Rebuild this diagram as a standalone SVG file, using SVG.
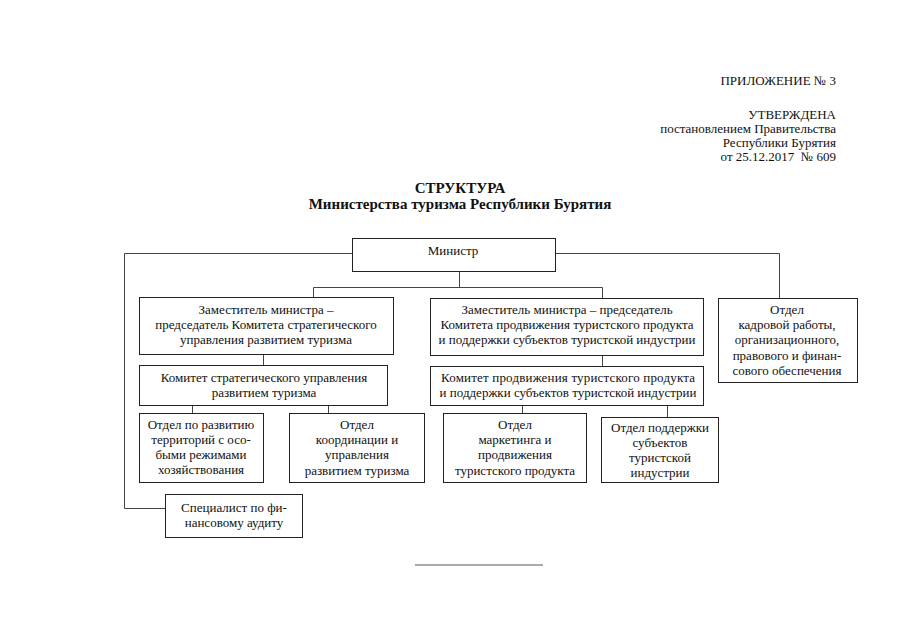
<svg xmlns="http://www.w3.org/2000/svg" width="905" height="640" viewBox="0 0 905 640">
<style>
  text { font-family: "Liberation Serif", "Times New Roman", serif; font-size: 13px; fill: #111; }
  .c { text-anchor: middle; }
  .r { text-anchor: end; }
  .t { font-size: 15px; font-weight: bold; text-anchor: middle; }
  .box { fill: #fff; stroke: #222; stroke-width: 1; }
  .ln { fill: none; stroke: #444; stroke-width: 1; }
</style>
<rect width="905" height="640" fill="#fff"/>

<g id="header">
  <text class="r" x="836" y="85">ПРИЛОЖЕНИЕ № 3</text>
  <text class="r" x="836" y="119">УТВЕРЖДЕНА</text>
  <text class="r" x="836" y="133">постановлением Правительства</text>
  <text class="r" x="836" y="147">Республики Бурятия</text>
  <text class="r" x="836" y="161" xml:space="preserve">от 25.12.2017  № 609</text>
</g>

<g id="title">
  <text class="t" x="460" y="193">СТРУКТУРА</text>
  <text class="t" x="460" y="209">Министерства туризма Республики Бурятия</text>
</g>

<g id="connectors">
  <polyline class="ln" points="459.5,271 459.5,287.5"/>
  <polyline class="ln" points="313.5,297 313.5,287.5 602.5,287.5 602.5,298"/>
  <polyline class="ln" points="263.5,354 263.5,365"/>
  <polyline class="ln" points="602.5,355 602.5,366"/>
  <polyline class="ln" points="192.5,405 192.5,413"/>
  <polyline class="ln" points="328.5,405 328.5,413"/>
  <polyline class="ln" points="522.5,405 522.5,413"/>
  <polyline class="ln" points="667.5,405 667.5,417"/>
  <polyline class="ln" points="352,253.5 124.5,253.5 124.5,508.5 165,508.5"/>
  <polyline class="ln" points="555,253.5 779.5,253.5 779.5,298"/>
</g>

<g id="minister">
  <rect class="box" x="352.5" y="238.5" width="203" height="33"/>
  <text class="c" x="453" y="255">Министр</text>
</g>

<g id="deputy-left">
  <rect class="box" x="139.5" y="297.5" width="254" height="57"/>
  <text class="c" x="266" y="314">Заместитель министра –</text>
  <text class="c" x="266" y="329">председатель Комитета стратегического</text>
  <text class="c" x="266" y="344">управления развитием туризма</text>
</g>

<g id="deputy-right">
  <rect class="box" x="430.5" y="298.5" width="273" height="57"/>
  <text class="c" x="567" y="314">Заместитель министра – председатель</text>
  <text class="c" x="567" y="329">Комитета продвижения туристского продукта</text>
  <text class="c" x="567" y="344">и поддержки субъектов туристской индустрии</text>
</g>

<g id="hr-dept">
  <rect class="box" x="718.5" y="298.5" width="139" height="84"/>
  <text class="c" x="787" y="314">Отдел</text>
  <text class="c" x="787" y="329">кадровой работы,</text>
  <text class="c" x="787" y="344">организационного,</text>
  <text class="c" x="787" y="360">правового и финан-</text>
  <text class="c" x="787" y="375">сового обеспечения</text>
</g>

<g id="committee-left">
  <rect class="box" x="139.5" y="365.5" width="248" height="40"/>
  <text class="c" x="264" y="382">Комитет стратегического управления</text>
  <text class="c" x="264" y="397">развитием туризма</text>
</g>

<g id="committee-right">
  <rect class="box" x="430.5" y="366.5" width="273" height="39"/>
  <text class="c" x="568" y="382" textLength="254" lengthAdjust="spacing">Комитет продвижения туристского продукта</text>
  <text class="c" x="568" y="397">и поддержки субъектов туристской индустрии</text>
</g>

<g id="dept-territories">
  <rect class="box" x="139.5" y="413.5" width="124" height="69"/>
  <text class="c" x="201" y="429">Отдел по развитию</text>
  <text class="c" x="201" y="444">территорий с осо-</text>
  <text class="c" x="201" y="459">быми режимами</text>
  <text class="c" x="201" y="474">хозяйствования</text>
</g>

<g id="dept-coordination">
  <rect class="box" x="289.5" y="413.5" width="135" height="69"/>
  <text class="c" x="357" y="429">Отдел</text>
  <text class="c" x="357" y="444">координации и</text>
  <text class="c" x="357" y="459">управления</text>
  <text class="c" x="357" y="475">развитием туризма</text>
</g>

<g id="dept-marketing">
  <rect class="box" x="443.5" y="413.5" width="143" height="69"/>
  <text class="c" x="515" y="429">Отдел</text>
  <text class="c" x="515" y="444">маркетинга и</text>
  <text class="c" x="515" y="459">продвижения</text>
  <text class="c" x="515" y="475">туристского продукта</text>
</g>

<g id="dept-support">
  <rect class="box" x="601.5" y="417.5" width="117" height="65"/>
  <text class="c" x="660" y="432">Отдел поддержки</text>
  <text class="c" x="660" y="447">субъектов</text>
  <text class="c" x="660" y="462">туристской</text>
  <text class="c" x="660" y="477">индустрии</text>
</g>

<g id="auditor">
  <rect class="box" x="165.5" y="494.5" width="137" height="43"/>
  <text class="c" x="234" y="512">Специалист по фи-</text>
  <text class="c" x="234" y="527">нансовому аудиту</text>
</g>

<g id="footer-rule">
  <line x1="415" y1="565" x2="543" y2="565" stroke="#555" stroke-width="1"/>
</g>
</svg>
